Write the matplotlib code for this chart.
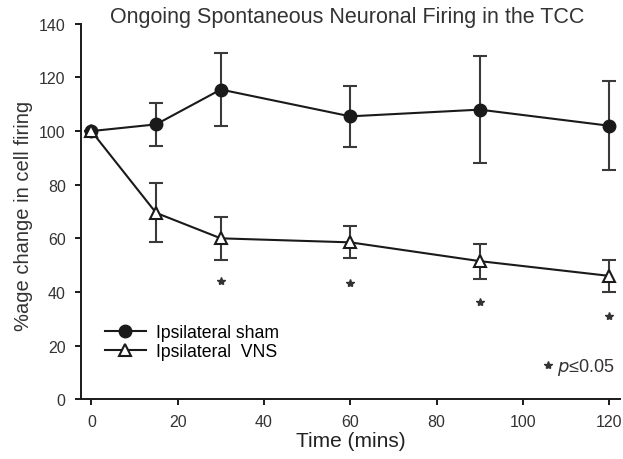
import numpy as np
import matplotlib
matplotlib.use("Agg")
import matplotlib.pyplot as plt

plt.rcParams['font.family'] = ['Liberation Sans', 'DejaVu Sans']

# data
time_min = [0, 15, 30, 60, 90, 120]
sham_mean = [100, 102.5, 115.5, 105.5, 108, 102]
sham_err = [0, 8, 13.5, 11.5, 20, 16.7]
vns_mean = [100, 69.5, 60, 58.5, 51.5, 46]
vns_err = [0, 11, 8, 6, 6.5, 6]
sig_times = [30, 60, 90, 120]
sig_y = [44, 43.5, 36.3, 31]

fig = plt.figure(figsize=(6.23, 4.6), dpi=100)
ax = fig.add_axes([0.130, 0.130, 0.865, 0.816])

line_col = '#1a1a1a'
err_col = '#3a3a3a'

# error bars first, lines + markers on top (legend uses the plain lines)
ax.errorbar(time_min, sham_mean, yerr=sham_err, fmt='none', ecolor=err_col,
            elinewidth=1.5, capsize=5, capthick=1.5, zorder=2)
ax.errorbar(time_min, vns_mean, yerr=vns_err, fmt='none', ecolor=err_col,
            elinewidth=1.5, capsize=5, capthick=1.5, zorder=2)
ax.plot(time_min, sham_mean, color=line_col, marker='o', markersize=9,
        markerfacecolor=line_col, markeredgecolor=line_col, linewidth=1.5,
        label='Ipsilateral sham', zorder=3)
ax.plot(time_min, vns_mean, color=line_col, marker='^', markersize=8,
        markerfacecolor='white', markeredgecolor=line_col, markeredgewidth=1.5,
        linewidth=1.5, label='Ipsilateral  VNS', zorder=4)

ax.plot(sig_times, sig_y, linestyle='none', marker='*', markersize=6,
        color='#333333')

ax.text(0.991, 0.088, r'$\it{p}$≤0.05', transform=ax.transAxes, ha='right', va='center',
        fontsize=13, color='#333333')
ax.plot([0.866], [0.09], transform=ax.transAxes, marker='*', markersize=6,
        color='#333333', linestyle='none')

ax.set_xlim(-2.4, 122.5)
ax.set_ylim(0, 140)
ax.set_xticks([0, 20, 40, 60, 80, 100, 120])
ax.set_yticks([0, 20, 40, 60, 80, 100, 120, 140])
for s in ['top', 'right']:
    ax.spines[s].set_visible(False)
for s in ['left', 'bottom']:
    ax.spines[s].set_linewidth(1.4)
    ax.spines[s].set_color(line_col)
ax.tick_params(direction='out', length=4, width=1.4, labelsize=11.5, pad=7,
               colors=line_col, labelcolor='#333333')

ax.set_xlabel('Time (mins)', fontsize=15, color='#222222', va='top')
ax.xaxis.set_label_coords(0.5, -0.085)
ax.set_ylabel('%age change in cell firing', fontsize=14.5, color='#333333')
ax.yaxis.set_label_coords(-0.089, 0.49)
fig.text(0.558, 0.962, 'Ongoing Spontaneous Neuronal Firing in the TCC', ha='center',
         va='center', fontsize=15.5, color='#333333')

ax.legend(loc='center left', bbox_to_anchor=(0.044, 0.152), frameon=False, fontsize=12.7,
          handlelength=2.35, handletextpad=0.55, labelspacing=0.15, borderpad=0,
          borderaxespad=0)

fig.savefig('out.png', dpi=100)
